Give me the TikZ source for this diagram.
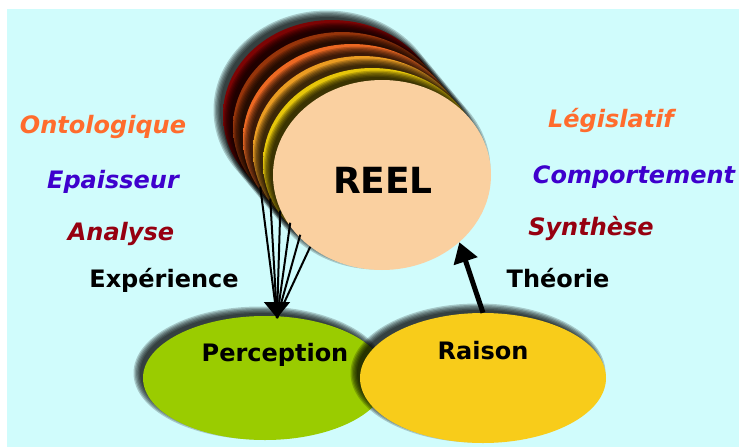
\documentclass[tikz,border=0pt]{standalone}
\usepackage{fontspec}
\setmainfont{DejaVu Sans}
\usetikzlibrary{shapes.geometric,arrows.meta}

\definecolor{bgcyan}{RGB}{208,252,252}
\definecolor{ontocol}{RGB}{255,108,45}
\definecolor{epaicol}{RGB}{62,0,205}
\definecolor{anacol}{RGB}{150,0,16}
\definecolor{reelfill}{RGB}{250,208,160}
\definecolor{percfill}{RGB}{154,204,0}
\definecolor{raisfill}{RGB}{248,204,26}
\definecolor{layA}{RGB}{125,4,4}
\definecolor{layB}{RGB}{150,52,10}
\definecolor{layC}{RGB}{236,104,34}
\definecolor{layD}{RGB}{234,156,34}
\definecolor{layE}{RGB}{230,198,10}
\colorlet{rimA}{white}
\colorlet{rimB}{black}

% radial fill with a darker rim near the border
\pgfdeclareradialshading[rimA,rimB]{rimshade}{\pgfpoint{0bp}{0bp}}{%
  color(0bp)=(rimA); color(44bp)=(rimA); color(50bp)=(rimB)}

% soft dark halo up and to the left of an ellipse: centre x, y, radii rx, ry
\newcommand\haze[4]{%
  \foreach \k in {0,...,5}{%
    \fill[black, fill opacity=0.2] (#1-5,#2-5) ellipse ({#3-2+1.3*\k} and {#4-2+1.3*\k});
  }}

\tikzset{
  blob/.style={ellipse, inner sep=0pt, draw=none},
  layer/.style={blob, minimum width=218pt, minimum height=190pt,
    /utils/exec={\colorlet{rimA}{#1}\colorlet{rimB}{#1!55!black}},
    shading=rimshade},
  lab/.style={anchor=base, inner sep=0pt,
    font=\fontsize{24}{27}\selectfont\bfseries\itshape},
  word/.style={anchor=base, inner sep=0pt,
    font=\fontsize{24}{27}\selectfont\bfseries},
  ray/.style={line width=2pt, black},
}

\begin{document}
\begin{tikzpicture}[x=1pt, y=-1pt]
  \useasboundingbox (0,0) rectangle (739,447);
  \fill[white] (0,0) rectangle (739,447);
  \fill[bgcyan] (7,9) rectangle (739,447);

  % stacked discs behind the real
  \haze{332}{115}{109}{95}
  \node[layer=layA] (l1) at (332,115) {};
  \haze{342}{127}{109}{95}
  \node[layer=layB] (l2) at (342,127) {};
  \haze{352}{139}{109}{95}
  \node[layer=layC] (l3) at (352,139) {};
  \haze{362}{151}{109}{95}
  \node[layer=layD] (l4) at (362,151) {};
  \haze{372}{163}{109}{95}
  \node[layer=layE] (l5) at (372,163) {};
  \haze{382}{175}{109}{95}
  \node[blob, fill=reelfill, minimum width=218pt, minimum height=190pt] (reel) at (382,175) {};
  \node[word, font=\fontsize{36}{40}\selectfont\bfseries] (reeltxt) at (383,193) {REEL};

  % perception and reason
  \haze{265}{378}{122}{62}
  \node[blob, fill=percfill, minimum width=244pt, minimum height=124pt] (perc) at (265,378) {};
  \haze{483}{378}{123}{65}
  \node[blob, fill=raisfill, minimum width=246pt, minimum height=130pt] (rais) at (483,378) {};
  \node[word] (perctxt) at (275,361) {Perception};
  \node[word] (raistxt) at (483,359) {Raison};

  % experience: rays gathered into one arrow
  \coordinate (tip) at (277,318);
  \coordinate (hub) at (277,298);
  \foreach \n in {l1,l2,l3,l4,l5,reel}
    \draw[ray] (\n.225) -- (tip);
  \draw[ray, -{Triangle[length=16pt,width=26pt]}] (hub) -- (tip);

  % theory arrow
  \draw[line width=5pt, -{Triangle[length=20pt,width=24pt]}] (rais.north) -- (reel.-41);

  % side labels
  \node[lab, text=ontocol] (onto) at (103,133) {Ontologique};
  \node[lab, text=epaicol] (epai) at (113,188) {Epaisseur};
  \node[lab, text=anacol]  (ana)  at (121,240) {Analyse};
  \node[word]              (exp)  at (164,287) {Expérience};
  \node[lab, text=ontocol] (legi) at (611,127) {Législatif};
  \node[lab, text=epaicol] (comp) at (634,183) {Comportement};
  \node[lab, text=anacol]  (synt) at (591,235) {Synthèse};
  \node[word]              (theo) at (558,287) {Théorie};
\end{tikzpicture}
\end{document}
